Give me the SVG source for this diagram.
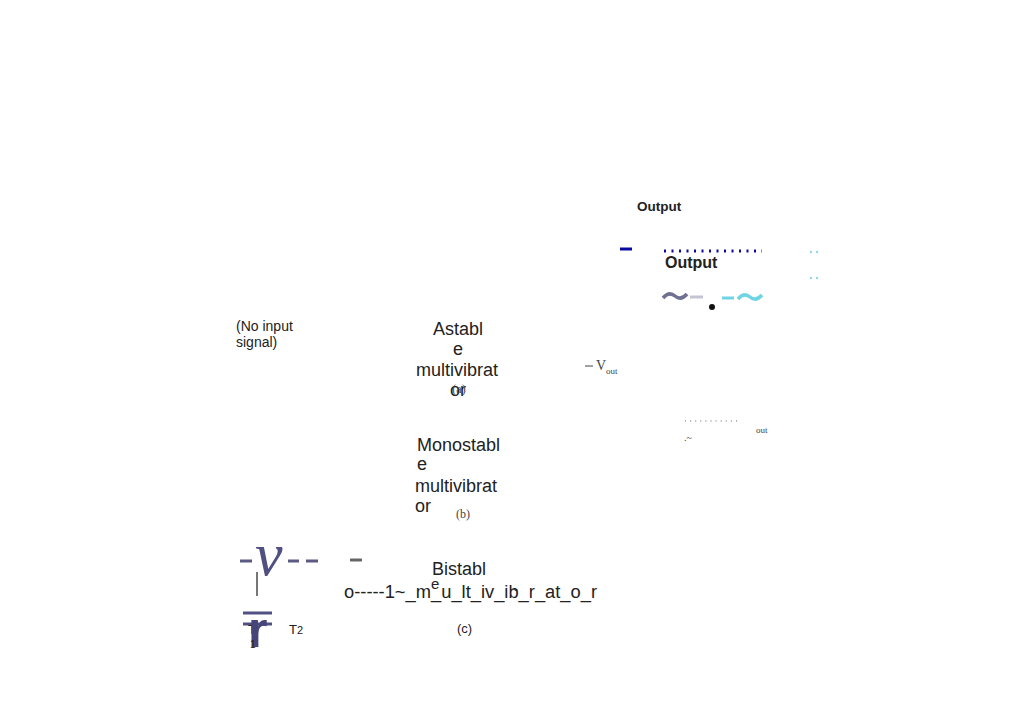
<svg xmlns="http://www.w3.org/2000/svg" width="1024" height="725" viewBox="0 0 1024 725">
<style>
.s{font-family:"Liberation Sans",Arial,sans-serif;fill:#222}
.b{font-weight:bold}
.m{font-size:18px}
.r{font-family:"Liberation Serif","Times New Roman",serif;fill:#444}
</style>
<rect width="1024" height="725" fill="#fff"/>
<g id="output-panel">
<text class="s b" x="637" y="211" font-size="13.5">Output</text>
<line x1="620" y1="249" x2="632" y2="249" stroke="#0a0aa0" stroke-width="3"/>
<line x1="664" y1="251" x2="762" y2="251" stroke="#0a0aa0" stroke-width="3" stroke-dasharray="2 5.5"/>
<text class="s b" x="665" y="268" font-size="16">Output</text>
<g fill="#8fdbe8"><circle cx="811" cy="252" r="1.2"/><circle cx="817" cy="252" r="1.2"/><circle cx="811" cy="278" r="1.2"/><circle cx="817" cy="278" r="1.2"/></g>
<path d="M663,298 q6,-7 12,-2 q6,5 12,-2" fill="none" stroke="#707092" stroke-width="3.5"/>
<line x1="690" y1="297" x2="703" y2="297" stroke="#c4c4d4" stroke-width="3"/>
<circle cx="712" cy="307" r="3" fill="#111"/>
<line x1="722" y1="298" x2="734" y2="298" stroke="#6fd4e4" stroke-width="3"/>
<path d="M738,299 q6,-7 12,-2 q6,5 12,-2" fill="none" stroke="#6fd4e4" stroke-width="3.5"/>
</g>
<g id="no-input">
<text class="s" x="236" y="331" font-size="14">(No input</text>
<text class="s" x="236" y="347" font-size="14">signal)</text>
</g>
<g id="astable">
<g class="s m" text-anchor="middle" fill="#333">
<text x="458" y="335">Astabl</text>
<text x="458" y="355">e</text>
<text x="457" y="376">multivibrat</text>
<text x="458" y="396">or</text>
</g>
<text class="r" x="459" y="393" font-size="12" text-anchor="middle">(a)</text>
</g>
<g id="vout">
<line x1="585" y1="366" x2="593" y2="366" stroke="#444" stroke-width="1"/>
<text class="r" x="596" y="370" font-size="14">V</text>
<text class="r" x="606" y="374" font-size="9">out</text>
</g>
<g id="vout2">
<line x1="685" y1="421" x2="740" y2="421" stroke="#666" stroke-width="1.2" stroke-dasharray="1 4.1"/>
<text class="r" x="756" y="433" font-size="9">out</text>
<text class="r" x="684" y="441" font-size="10" fill="#777">.~</text>
</g>
<g id="monostable">
<g class="s m" fill="#333">
<text x="417" y="451">Monostabl</text>
<text x="417" y="470">e</text>
<text x="415" y="492">multivibrat</text>
<text x="415" y="512">or</text>
</g>
<text class="r" x="456" y="518" font-size="12">(b)</text>
</g>
<g id="bistable-symbol">
<line x1="240" y1="561" x2="252" y2="561" stroke="#5a5a82" stroke-width="3"/>
<text x="255" y="575" font-family="Liberation Serif,serif" font-style="italic" font-size="62" fill="#505082">v</text>
<line x1="288" y1="561" x2="299" y2="561" stroke="#5a5a82" stroke-width="3"/>
<line x1="306" y1="561" x2="318" y2="561" stroke="#5a5a82" stroke-width="3"/>
<line x1="350" y1="560" x2="362" y2="560" stroke="#666" stroke-width="3"/>
<line x1="257" y1="572" x2="257" y2="596" stroke="#777" stroke-width="2"/>
<line x1="243" y1="613" x2="272" y2="613" stroke="#505082" stroke-width="3"/>
<line x1="243" y1="624" x2="272" y2="624" stroke="#505082" stroke-width="3"/>
<text class="s" x="248" y="634" font-size="13" fill="#333">T</text>
<text x="248" y="647" font-family="Liberation Sans,sans-serif" font-weight="bold" font-size="50" fill="#45457a">r</text>
<text class="s" x="250" y="648" font-size="10">1</text>
<text class="s" x="289" y="634" font-size="13">T</text>
<text class="s" x="297" y="634" font-size="11" fill="#666">2</text>
</g>
<g id="bistable">
<text class="s m" x="432" y="575" fill="#333">Bistabl</text>
<text class="s m" x="344" y="598" textLength="253" lengthAdjust="spacingAndGlyphs">o-----1~_m_u_lt_iv_ib_r_at_o_r</text>
<text class="s" x="431" y="589" font-size="15" fill="#333">e</text>
<text class="s" x="512" y="594" font-size="10">~</text>
<text class="s" x="457" y="633" font-size="13" fill="#444">(c)</text>
</g>
</svg>
